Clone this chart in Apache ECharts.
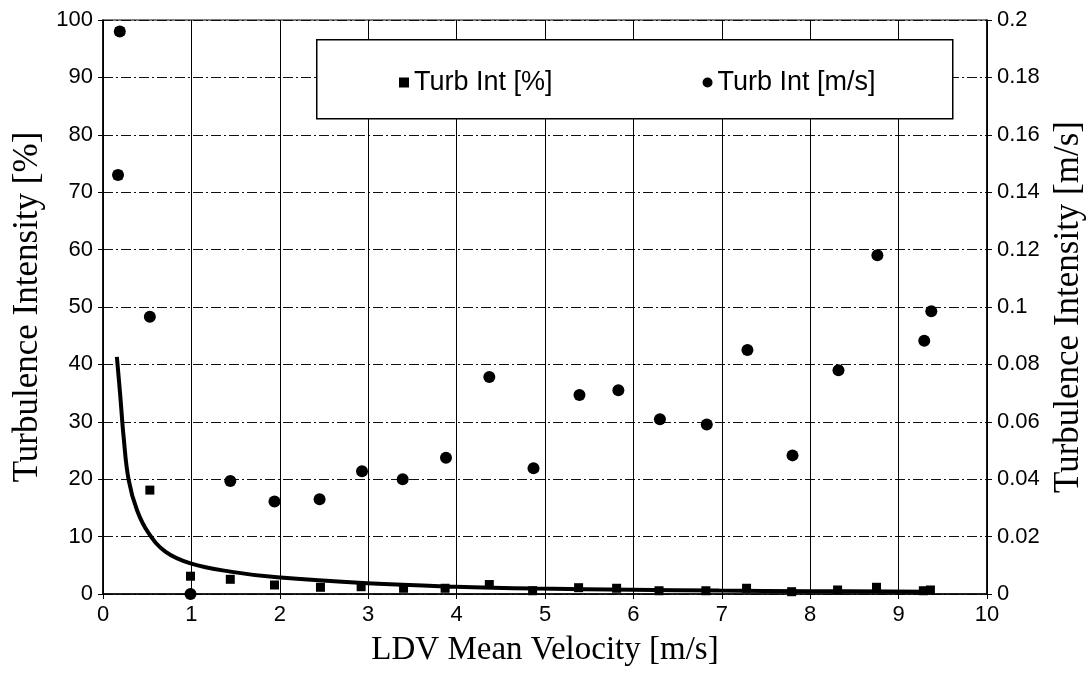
<!DOCTYPE html>
<html>
<head>
<meta charset="utf-8">
<script src="https://cdn.jsdelivr.net/npm/echarts@6/dist/echarts.min.js"></script>
<style>
  html, body { margin: 0; padding: 0; background: #fff; }
  #chart { width: 1090px; height: 687px; }
</style>
</head>
<body>
<div id="chart"></div>
<script>
// Turb Int [%] (squares, left axis)
const velPct = [0.19, 0.17, 0.53, 0.99, 1.44, 1.94, 2.46, 2.92, 3.40, 3.87, 4.37, 4.86, 5.38, 5.81, 6.29, 6.82, 7.28, 7.79, 8.31, 8.75, 9.28, 9.36];
const turbPct = [98, 73, 18.1, 3.1, 2.56, 1.57, 1.17, 1.27, 1.0, 1.0, 1.65, 0.57, 1.1, 1.0, 0.57, 0.57, 1.0, 0.4, 0.7, 1.17, 0.57, 0.7];

// Turb Int [m/s] (circles, right axis)
const velMs = [0.19, 0.17, 0.53, 0.99, 1.44, 1.94, 2.45, 2.93, 3.39, 3.88, 4.37, 4.87, 5.39, 5.83, 6.30, 6.83, 7.29, 7.80, 8.32, 8.76, 9.29, 9.37];
const turbMs = [0.196, 0.146, 0.0966, 0, 0.0394, 0.0322, 0.033, 0.0428, 0.040, 0.0475, 0.0756, 0.0438, 0.0693, 0.071, 0.0609, 0.0591, 0.085, 0.0483, 0.078, 0.118, 0.0882, 0.0985];

// fitted curve (left axis)
const fitX = [0.157, 0.196, 0.233, 0.29, 0.385, 0.516, 0.705, 0.99, 1.44, 1.97, 2.99, 3.99, 4.91, 5.98, 6.97, 7.99, 9.36];
const fitY = [41.3, 34.4, 27.4, 19.9, 14.6, 10.6, 7.4, 5.35, 3.9, 2.9, 1.86, 1.27, 0.95, 0.75, 0.6, 0.5, 0.4];

const xTicks = [0, 10, 1];
const leftTicks = [0, 100, 10];
const rightTicks = [0, 0.2, 0.02];

const sans = 'Liberation Sans';
const serif = 'Liberation Serif';

const chart = echarts.init(document.getElementById('chart'));

const tickLabel = { fontFamily: sans, fontSize: 22, color: '#000', margin: 10 };

const option = {
    backgroundColor: '#fff',
    animation: false,
    grid: {
        left: 103,
        right: 103,
        top: 20,
        bottom: 93,
        outerBoundsMode: 'none',
        containLabel: false,
        show: true,
        borderColor: '#000',
        borderWidth: 1.2
    },
    graphic: [
        {
            type: 'rect',
            left: 316,
            top: 39,
            z: 50,
            shape: { width: 636, height: 79 },
            style: { fill: '#fff', stroke: '#000', lineWidth: 1.5 }
        }
    ],
    legend: {
        data: ['Turb Int [%]', 'Turb Int [m/s]'],
        left: 394,
        top: 64,
        z: 60,
        itemWidth: 10,
        itemHeight: 10,
        itemGap: 150,
        textStyle: { fontFamily: sans, fontSize: 27, color: '#000' }
    },
    xAxis: {
        type: 'value',
        min: xTicks[0],
        max: xTicks[1],
        interval: xTicks[2],
        name: 'LDV Mean Velocity [m/s]',
        nameLocation: 'middle',
        nameGap: 40,
        nameTextStyle: { fontFamily: serif, fontSize: 33, color: '#000' },
        axisLine: { lineStyle: { color: '#000', width: 1.5 } },
        axisTick: { show: true, length: 5, lineStyle: { color: '#000' } },
        axisLabel: tickLabel,
        splitLine: { show: true, lineStyle: { color: '#000', width: 1 } }
    },
    yAxis: [
        {
            type: 'value',
            min: leftTicks[0],
            max: leftTicks[1],
            interval: leftTicks[2],
            name: 'Turbulence Intensity [%]',
            nameLocation: 'middle',
            nameGap: 56,
            nameTextStyle: { fontFamily: serif, fontSize: 35, color: '#000' },
            axisLine: { show: true, lineStyle: { color: '#000', width: 1.5 } },
            axisTick: { show: true, length: 5, lineStyle: { color: '#000' } },
            axisLabel: tickLabel,
            splitLine: { show: true, lineStyle: { color: '#111', width: 1, type: [10, 3, 2, 3] } }
        },
        {
            type: 'value',
            position: 'right',
            min: rightTicks[0],
            max: rightTicks[1],
            interval: rightTicks[2],
            name: 'Turbulence Intensity [m/s]',
            nameLocation: 'middle',
            nameGap: 64,
            nameTextStyle: { fontFamily: serif, fontSize: 35, color: '#000' },
            axisLine: { show: true, lineStyle: { color: '#000', width: 1.5 } },
            axisTick: { show: true, length: 5, lineStyle: { color: '#000' } },
            axisLabel: tickLabel,
            splitLine: { show: false }
        }
    ],
    series: [
        {
            name: 'fit',
            type: 'line',
            yAxisIndex: 0,
            smooth: 0.4,
            showSymbol: false,
            silent: true,
            z: 3,
            lineStyle: { color: '#000', width: 4 },
            data: fitX.map((x, i) => [x, fitY[i]])
        },
        {
            name: 'Turb Int [%]',
            type: 'scatter',
            yAxisIndex: 0,
            symbol: 'rect',
            symbolSize: 9,
            z: 4,
            itemStyle: { color: '#000', opacity: 1 },
            data: velPct.map((x, i) => [x, turbPct[i]])
        },
        {
            name: 'Turb Int [m/s]',
            type: 'scatter',
            yAxisIndex: 1,
            symbol: 'circle',
            symbolSize: 12,
            z: 5,
            itemStyle: { color: '#000', opacity: 1 },
            data: velMs.map((x, i) => [x, turbMs[i]])
        }
    ]
};

chart.setOption(option);
</script>
</body>
</html>
